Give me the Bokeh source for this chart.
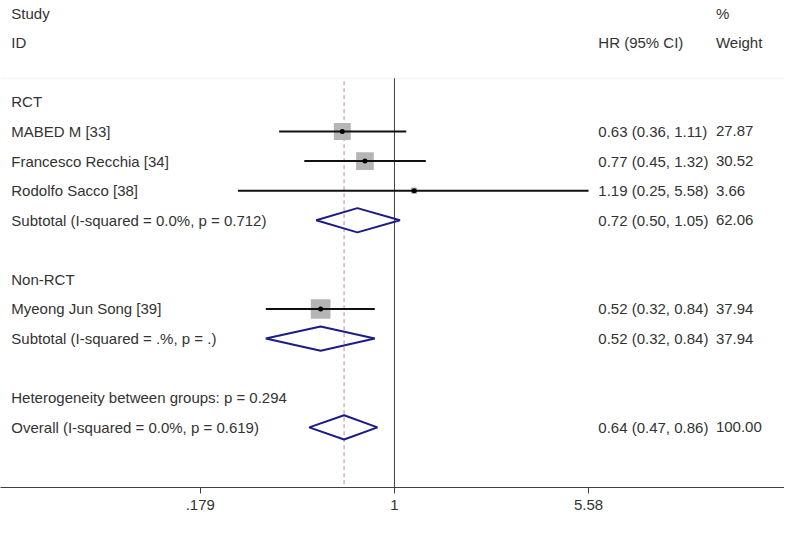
import math
from bokeh.plotting import figure
from bokeh.models import Range1d, FixedTicker, CustomJSTickFormatter, ColumnDataSource
from bokeh.core.properties import value
from bokeh.embed import file_html
from bokeh.resources import INLINE

# ---------------- data ----------------
groups = ["RCT", "Non-RCT"]
study_labels = ["MABED M [33]", "Francesco Recchia [34]", "Rodolfo Sacco [38]", "Myeong Jun Song [39]"]
study_group = ["RCT", "RCT", "RCT", "Non-RCT"]
study_hr = [0.63, 0.77, 1.19, 0.52]
study_lo = [0.36, 0.45, 0.25, 0.32]
study_hi = [1.11, 1.32, 5.58, 0.84]
study_weight = [27.87, 30.52, 3.66, 37.94]

sub_labels = ["Subtotal  (I-squared = 0.0%, p = 0.712)", "Subtotal  (I-squared = .%, p = .)"]
sub_hr = [0.72, 0.52]
sub_lo = [0.50, 0.32]
sub_hi = [1.05, 0.84]
sub_weight = [62.06, 37.94]

het_label = "Heterogeneity between groups: p = 0.294"
overall_label = "Overall  (I-squared = 0.0%, p = 0.619)"
overall_hr = [0.64]
overall_lo = [0.47]
overall_hi = [0.86]
overall_weight = [100.00]

tick_values = [0.179, 1, 5.58]
tick_labels = [".179", "1", "5.58"]

# ---------------- layout ----------------
W, H = 784, 519
SX, SY = W / 800, H / 535
AX_H = 32
FRAME_H = H - AX_H
PX_PER_LN = 115.2 * SX
X1_PX = 402.0 * SX          # pixel of HR = 1
ROW0_PX = 13.0 * SY         # pixel of first row
ROW_PX = 30.5 * SY

def xpx(ref_px):
    return math.exp((ref_px * SX - X1_PX) / PX_PER_LN)

x_start = math.exp((0 - X1_PX) / PX_PER_LN)
x_end = math.exp((W - X1_PX) / PX_PER_LN)
y_top = -ROW0_PX / ROW_PX
y_bot = (FRAME_H - ROW0_PX) / ROW_PX

TEXT_COL = "#333333"
FONT = value("Liberation Sans")
FS = "15px"

p = figure(width=W, height=H, output_backend="svg", toolbar_location=None,
           x_axis_type="log", x_range=Range1d(x_start, x_end),
           y_range=Range1d(y_bot, y_top), y_axis_location=None,
           min_border_left=0, min_border_right=0, min_border_top=0,
           min_border_bottom=AX_H)
p.outline_line_color = None
p.xgrid.visible = False
p.ygrid.visible = False
p.background_fill_color = "white"
p.border_fill_color = "white"

# rows
row = 3
grp_rows, st_rows, sub_rows = [], [None] * len(study_labels), []
for gi, g in enumerate(groups):
    grp_rows.append(row)
    row += 1
    for si, sg in enumerate(study_group):
        if sg == g:
            st_rows[si] = row
            row += 1
    sub_rows.append(row)
    row += 2
het_row = row
overall_row = row + 1
sep_row = 2.2

# separator and reference lines
p.segment(x0=[x_start], y0=[sep_row], x1=[x_end], y1=[sep_row], line_color="#f0f0f0", line_width=1)
p.segment(x0=[1], y0=[sep_row], x1=[1], y1=[y_bot], line_color="#404040", line_width=1)
p.segment(x0=overall_hr, y0=[sep_row + 0.1], x1=overall_hr, y1=[y_bot],
          line_color="#c88a8a", line_width=1, line_dash="4 3")

# study boxes, CIs, points
box_sizes = [3.2 * math.sqrt(w) for w in study_weight]
src = ColumnDataSource(dict(hr=study_hr, lo=study_lo, hi=study_hi, y=st_rows, s=box_sizes))
p.scatter(x="hr", y="y", size="s", marker="square", source=src,
          fill_color="#b5b5b5", line_color=None)
p.segment(x0="lo", y0="y", x1="hi", y1="y", source=src, line_color="#111111", line_width=2)
p.scatter(x="hr", y="y", size=5, marker="circle", source=src, fill_color="black", line_color=None)

# diamonds
dh = 0.41
d_hr = sub_hr + overall_hr
d_lo = sub_lo + overall_lo
d_hi = sub_hi + overall_hi
d_rows = sub_rows + [overall_row]
xs = [[lo, hr, hi, hr] for lo, hr, hi in zip(d_lo, d_hr, d_hi)]
ys = [[r, r - dh, r, r + dh] for r in d_rows]
p.patches(xs=xs, ys=ys, fill_color=None, line_color="#1c1c86", line_width=2)

# left text
left_txt = ["Study", "ID"] + groups + study_labels + sub_labels + [het_label, overall_label]
left_rows = [0, 1] + grp_rows + st_rows + sub_rows + [het_row, overall_row]
p.text(x=[xpx(11)] * len(left_txt), y=left_rows, text=left_txt, text_font=FONT,
       text_font_size=FS, text_color=TEXT_COL, text_baseline="middle", text_align="left")

# right columns
all_hr = study_hr + sub_hr + overall_hr
all_lo = study_lo + sub_lo + overall_lo
all_hi = study_hi + sub_hi + overall_hi
all_w = study_weight + sub_weight + overall_weight
all_rows = st_rows + sub_rows + [overall_row]
hr_txt = ["HR (95% CI)"] + [f"{h:.2f} ({l:.2f}, {u:.2f})" for h, l, u in zip(all_hr, all_lo, all_hi)]
w_txt = ["%", "Weight"] + [f"{w:.2f}" for w in all_w]
p.text(x=[xpx(610)] * len(hr_txt), y=[1] + all_rows, text=hr_txt, text_font=FONT,
       text_font_size=FS, text_color=TEXT_COL, text_baseline="middle", text_align="left")
p.text(x=[xpx(730)] * len(w_txt), y=[0, 1] + all_rows, text=w_txt, text_font=FONT,
       text_font_size=FS, text_color=TEXT_COL, text_baseline="middle", text_align="left")

# axis
ax = p.xaxis[0]
ax.ticker = FixedTicker(ticks=tick_values)
ax.formatter = CustomJSTickFormatter(args=dict(labels=tick_labels), code="return labels[index];")
ax.minor_tick_line_color = None
ax.major_tick_in = 0
ax.major_tick_out = 6
ax.axis_line_color = "#404040"
ax.major_tick_line_color = "#404040"
ax.major_label_text_font = "Liberation Sans"
ax.major_label_text_font_size = FS
ax.major_label_text_color = TEXT_COL
ax.major_label_standoff = 6

open("out.html", "w").write(file_html(p, INLINE))
